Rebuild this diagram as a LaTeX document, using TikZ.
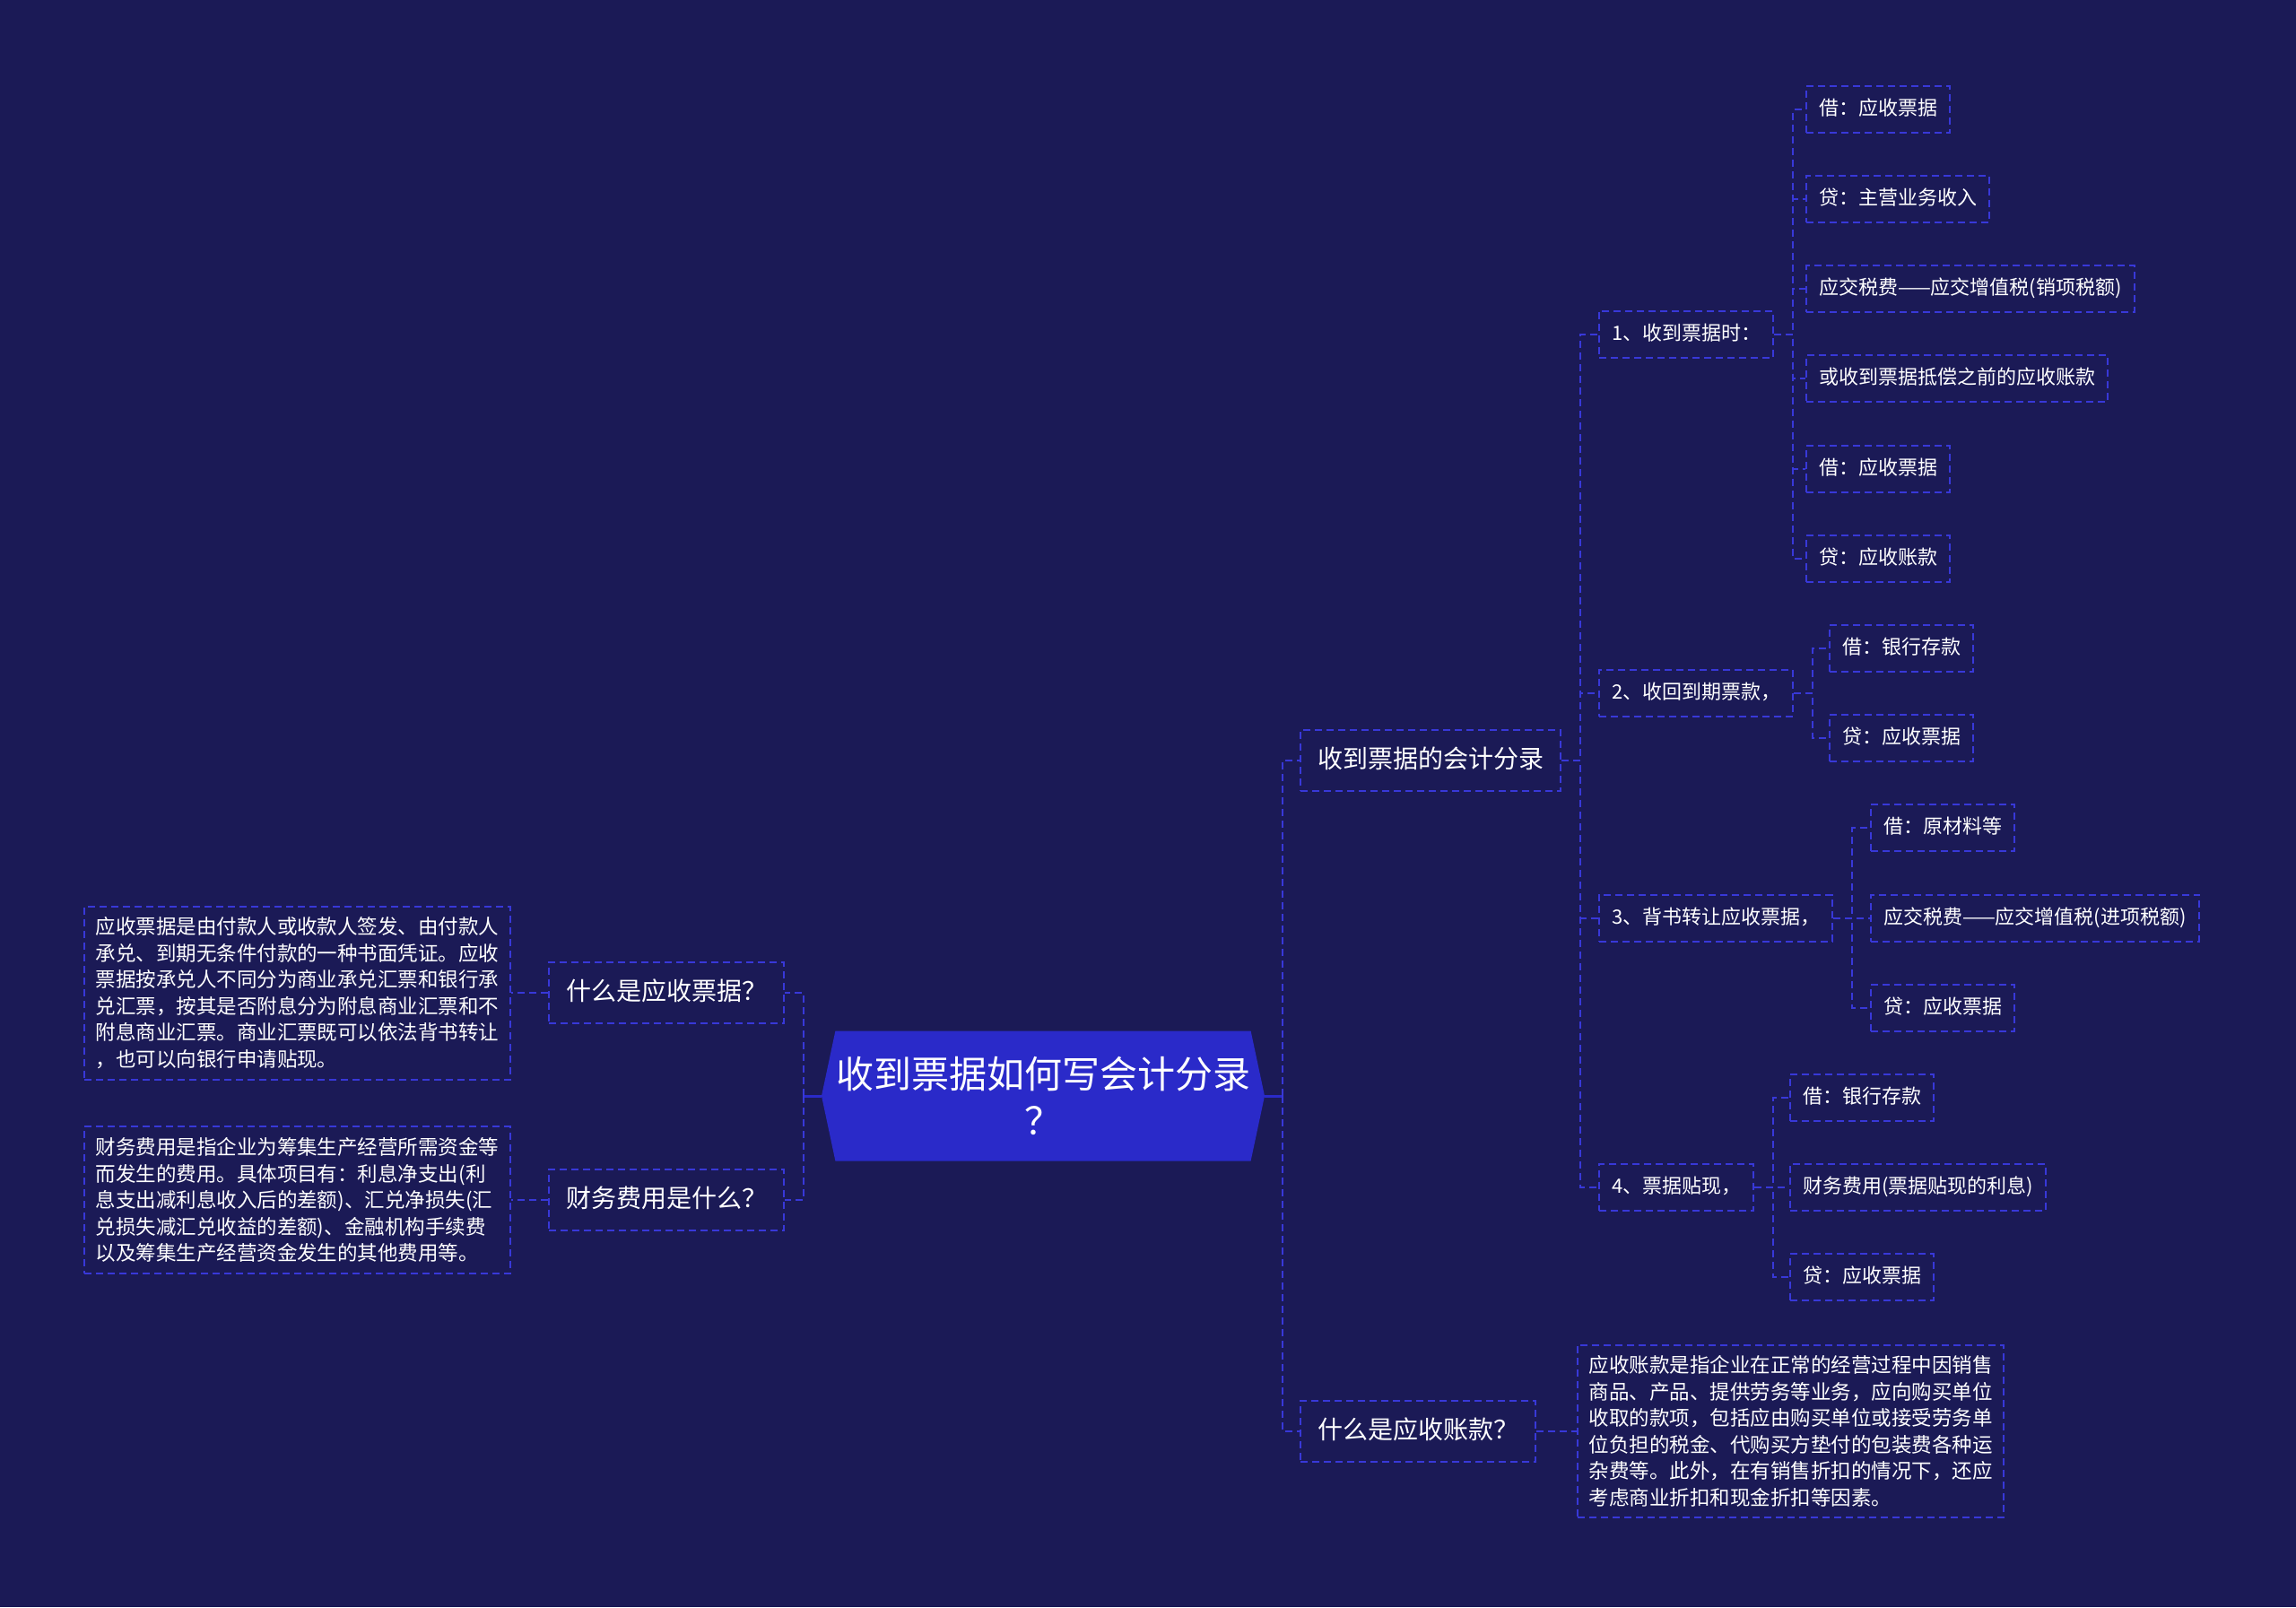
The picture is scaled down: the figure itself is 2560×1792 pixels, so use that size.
\documentclass[tikz,border=0pt]{standalone}
\usepackage{fontspec}
\setmainfont{Noto Sans CJK SC}
\usetikzlibrary{positioning,shapes.symbols}
\definecolor{bg}{HTML}{1B1A56}
\definecolor{hub}{HTML}{2A2AC9}
\definecolor{wire}{HTML}{3838D8}

\begin{document}
\begin{tikzpicture}[x=1pt, y=-1pt,
    box/.style={draw=wire, line width=2pt, dash pattern=on 8pt off 5pt, text=white},
    topic/.style={box, font=\fontsize{28}{34}\selectfont, inner xsep=19pt,
      minimum height=68pt, text height=22.4pt, text depth=5.6pt},
    item/.style={box, font=\fontsize{22}{27}\selectfont, inner xsep=14pt,
      minimum height=52pt, text height=17.6pt, text depth=4.4pt},
    note/.style={box, font=\fontsize{22.5}{29.5}\selectfont, align=left,
      inner xsep=12.5pt, inner ysep=12pt},
    link/.style={draw=wire, line width=2pt, dash pattern=on 8pt off 5pt},
    hubline/.style={draw=hub, line width=3pt}]
    \path[use as bounding box, fill=bg] (0,0) rectangle (2560,1792);

    \node[signal, signal to=west and east, signal pointer angle=156, fill=hub,
      text=white, minimum width=494pt, minimum height=145pt, inner sep=0pt,
      align=center, font=\fontsize{42}{52}\selectfont] (root) at (1163,1222)
      {收到票据如何写会计分录\\？};

    % left branch
    \node[topic, anchor=east] (q1) at (875,1107) {什么是应收票据？};
    \node[topic, anchor=east] (q2) at (875,1338) {财务费用是什么？};
    \node[note, left=41pt of q1] (q1note) {应收票据是由付款人或收款人签发、由付款人\\承兑、到期无条件付款的一种书面凭证。应收\\票据按承兑人不同分为商业承兑汇票和银行承\\兑汇票，按其是否附息分为附息商业汇票和不\\附息商业汇票。商业汇票既可以依法背书转让\\，也可以向银行申请贴现。};
    \node[note, left=41pt of q2] (q2note) {财务费用是指企业为筹集生产经营所需资金等\\而发生的费用。具体项目有：利息净支出(利\\息支出减利息收入后的差额)、汇兑净损失(汇\\兑损失减汇兑收益的差额)、金融机构手续费\\以及筹集生产经营资金发生的其他费用等。};

    % right branch
    \node[topic, anchor=west] (acct) at (1449,848) {收到票据的会计分录};
    \node[topic, anchor=west] (ar) at (1449,1596) {什么是应收账款？};
    \node[note, right=45pt of ar] (arnote) {应收账款是指企业在正常的经营过程中因销售\\商品、产品、提供劳务等业务，应向购买单位\\收取的款项，包括应由购买单位或接受劳务单\\位负担的税金、代购买方垫付的包装费各种运\\杂费等。此外，在有销售折扣的情况下，还应\\考虑商业折扣和现金折扣等因素。};

    \node[item, anchor=west] (step1) at (1782,372.5) {1、收到票据时：};
    \node[item, anchor=west] (step2) at (1782,773) {2、收回到期票款，};
    \node[item, anchor=west] (step3) at (1782,1023.5) {3、背书转让应收票据，};
    \node[item, anchor=west] (step4) at (1782,1324) {4、票据贴现，};

    \node[item, anchor=west] (a1) at (2013,122) {借：应收票据};
    \node[item, anchor=west] (a2) at (2013,222) {贷：主营业务收入};
    \node[item, anchor=west] (a3) at (2013,322) {应交税费——应交增值税(销项税额)};
    \node[item, anchor=west] (a4) at (2013,422) {或收到票据抵偿之前的应收账款};
    \node[item, anchor=west] (a5) at (2013,523) {借：应收票据};
    \node[item, anchor=west] (a6) at (2013,623) {贷：应收账款};
    \node[item, anchor=west] (b1) at (2039,723) {借：银行存款};
    \node[item, anchor=west] (b2) at (2039,823) {贷：应收票据};
    \node[item, anchor=west] (c1) at (2085,923) {借：原材料等};
    \node[item, anchor=west] (c2) at (2085,1023.5) {应交税费——应交增值税(进项税额)};
    \node[item, anchor=west] (c3) at (2085,1124) {贷：应收票据};
    \node[item, anchor=west] (d1) at (1995,1224) {借：银行存款};
    \node[item, anchor=west] (d2) at (1995,1324) {财务费用(票据贴现的利息)};
    \node[item, anchor=west] (d3) at (1995,1424) {贷：应收票据};

    % connectors
    \draw[hubline] (root.east) -- ++(20,0) coordinate (rbus);
    \draw[hubline] (root.west) -- ++(-20,0) coordinate (lbus);
    \draw[link] (rbus) |- (acct.west);
    \draw[link] (rbus) |- (ar.west);
    \draw[link] (lbus) |- (q1.east);
    \draw[link] (lbus) |- (q2.east);
    \draw[link] (q1.west) -- (q1note.east);
    \draw[link] (q2.west) -- (q2note.east);
    \draw[link] (ar.east) -- (arnote.west);

    \draw[link] (acct.east) -- ++(21,0) |- (step1.west);
    \draw[link] (acct.east) -- ++(21,0) |- (step2.west);
    \draw[link] (acct.east) -- ++(21,0) |- (step3.west);
    \draw[link] (acct.east) -- ++(21,0) |- (step4.west);

    \draw[link] (step1.east) -- ++(21,0) |- (a1.west);
    \draw[link] (step1.east) -- ++(21,0) |- (a2.west);
    \draw[link] (step1.east) -- ++(21,0) |- (a3.west);
    \draw[link] (step1.east) -- ++(21,0) |- (a4.west);
    \draw[link] (step1.east) -- ++(21,0) |- (a5.west);
    \draw[link] (step1.east) -- ++(21,0) |- (a6.west);
    \draw[link] (step2.east) -- ++(21,0) |- (b1.west);
    \draw[link] (step2.east) -- ++(21,0) |- (b2.west);
    \draw[link] (step3.east) -- ++(21,0) |- (c1.west);
    \draw[link] (step3.east) -- ++(21,0) |- (c2.west);
    \draw[link] (step3.east) -- ++(21,0) |- (c3.west);
    \draw[link] (step4.east) -- ++(21,0) |- (d1.west);
    \draw[link] (step4.east) -- ++(21,0) |- (d2.west);
    \draw[link] (step4.east) -- ++(21,0) |- (d3.west);
\end{tikzpicture}
\end{document}
